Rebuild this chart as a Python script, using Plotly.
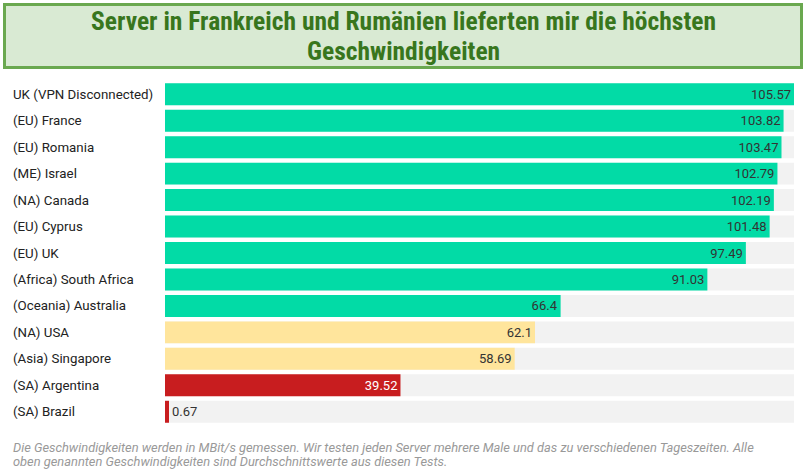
import plotly.graph_objects as go

categories = ["UK (VPN Disconnected)", "(EU) France", "(EU) Romania", "(ME) Israel",
              "(NA) Canada", "(EU) Cyprus", "(EU) UK", "(Africa) South Africa",
              "(Oceania) Australia", "(NA) USA", "(Asia) Singapore", "(SA) Argentina",
              "(SA) Brazil"]
speeds = [105.57, 103.82, 103.47, 102.79, 102.19, 101.48, 97.49, 91.03, 66.4, 62.1, 58.69, 39.52, 0.67]
tiers = ["fast"] * 9 + ["medium"] * 2 + ["slow"] * 2

title_lines = ["Server in Frankreich und Rumänien lieferten mir die höchsten", "Geschwindigkeiten"]
note_lines = ["Die Geschwindigkeiten werden in MBit/s gemessen. Wir testen jeden Server mehrere Male und das zu verschiedenen Tageszeiten. Alle",
              "oben genannten Geschwindigkeiten sind Durchschnittswerte aus diesen Tests."]

tier_color = {"fast": "#02dba6", "medium": "#ffe59c", "slow": "#c81d1f"}
colors = [tier_color[t] for t in tiers]
vmax = max(speeds)
positions = ["inside" if v > 5 else "outside" for v in speeds]
text_colors = ["#ffffff" if (t == "slow" and p == "inside") else "#333333"
               for t, p in zip(tiers, positions)]

W, H = 806, 472
L, R, T, B = 165, 12, 81, 47
pw, ph = W - L - R, H - T - B

def px(x):
    return (x - L) / pw

def py(y):
    return (H - B - y) / ph

fig = go.Figure()
fig.add_trace(go.Bar(y=categories, x=[vmax] * len(categories), orientation="h",
                     marker=dict(color="#f2f2f2", line=dict(width=0)),
                     hoverinfo="skip", showlegend=False))
fig.add_trace(go.Bar(y=categories, x=speeds, orientation="h",
                     marker=dict(color=colors, line=dict(width=0)),
                     text=[f"{v:g}" for v in speeds], textposition=positions,
                     insidetextanchor="end", constraintext="none",
                     textfont=dict(family="Roboto", size=13, color=text_colors),
                     showlegend=False))

fig.update_layout(
    width=W, height=H, margin=dict(l=L, r=R, t=T, b=B),
    barmode="overlay", bargap=0.17,
    paper_bgcolor="white", plot_bgcolor="white",
    xaxis=dict(range=[0, vmax], visible=False, fixedrange=True),
    yaxis=dict(autorange="reversed", showticklabels=False, showgrid=False, zeroline=False),
    font=dict(family="Roboto", color="#222222"),
)

shapes = [dict(type="rect", xref="paper", yref="paper",
               x0=px(4.5), x1=px(801.5), y0=py(4.5), y1=py(67.5),
               fillcolor="#d9ead3", line=dict(color="#6aa84f", width=3), layer="below")]
fig.update_layout(shapes=shapes)

annotations = []
for line, yc in zip(title_lines, [21, 51]):
    annotations.append(dict(xref="paper", yref="paper", x=px(403), y=py(yc), text=line,
                            showarrow=False, xanchor="center", yanchor="middle",
                            font=dict(family="Liberation Sans Narrow, Roboto Condensed, Roboto",
                                      size=25.5, color="#38761d", weight="bold")))
for line, yc in zip(note_lines, [448, 461]):
    annotations.append(dict(xref="paper", yref="paper", x=px(11), y=py(yc), text=line,
                            showarrow=False, xanchor="left", yanchor="middle", align="left",
                            font=dict(family="Roboto", size=12.85, color="#999999", style="italic")))
for c in categories:
    annotations.append(dict(xref="paper", yref="y", x=px(11), y=c, text=c, showarrow=False,
                            xanchor="left", yanchor="middle",
                            font=dict(family="Roboto", size=13.3, color="#222222")))
fig.update_layout(annotations=annotations)

fig.write_html("out.html")
